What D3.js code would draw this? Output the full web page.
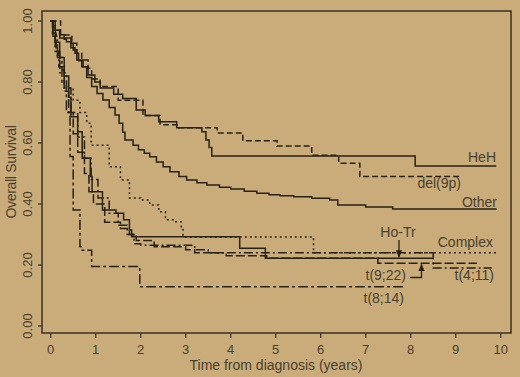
<!DOCTYPE html>
<html>
<head>
<meta charset="utf-8">
<script src="https://cdn.jsdelivr.net/npm/d3@7"></script>
<style>
  html, body { margin: 0; padding: 0; background: #c9ac79; }
  svg { display: block; }
  text { font-family: "Liberation Sans", Arial, sans-serif; fill: #4a4030; }
</style>
</head>
<body>
<div id="chart"></div>
<script>
// survival curves: time (years) and survival fraction, last time = end of follow-up
var hehT = [0, 0.1, 0.2, 0.45, 0.5, 0.58, 0.72, 0.83, 0.98, 1.1, 1.4, 1.6, 1.9, 2.1, 2.4, 2.8, 3.36, 3.45, 3.52, 3.58, 8.1, 9.9];
var hehS = [1, 0.97, 0.944, 0.927, 0.905, 0.872, 0.85, 0.823, 0.8, 0.78, 0.76, 0.746, 0.708, 0.69, 0.67, 0.65, 0.637, 0.61, 0.585, 0.557, 0.525, 0.525];

var del9pT = [0, 0.22, 0.47, 0.58, 0.69, 0.83, 0.91, 1.1, 1.5, 2.05, 2.43, 2.8, 3.7, 4.27, 5.03, 5.8, 6.4, 6.87, 9.1];
var del9pS = [1, 0.954, 0.927, 0.894, 0.872, 0.845, 0.81, 0.785, 0.74, 0.69, 0.66, 0.65, 0.633, 0.607, 0.59, 0.56, 0.534, 0.49, 0.49];

var otherT = [0, 0.05, 0.1, 0.2, 0.3, 0.35, 0.45, 0.54, 0.62, 0.69, 0.8, 0.91, 1.03, 1.16, 1.3, 1.43, 1.52, 1.6, 1.65, 1.83, 1.95, 2.08, 2.2, 2.35, 2.5, 2.65, 2.85, 3.02, 3.25, 3.47, 3.75, 4.0, 4.3, 4.58, 4.85, 5.1, 5.4, 5.8, 6.2, 6.38, 7.0, 7.6, 9.91];
var otherS = [1, 0.985, 0.97, 0.955, 0.94, 0.932, 0.912, 0.894, 0.87, 0.85, 0.815, 0.785, 0.762, 0.741, 0.716, 0.692, 0.665, 0.635, 0.61, 0.593, 0.578, 0.566, 0.555, 0.538, 0.522, 0.506, 0.49, 0.479, 0.47, 0.462, 0.455, 0.449, 0.442, 0.435, 0.43, 0.427, 0.424, 0.419, 0.413, 0.397, 0.39, 0.384, 0.384];

var complexT = [0, 0.05, 0.15, 0.2, 0.35, 0.5, 0.65, 0.8, 0.9, 1.3, 1.55, 1.75, 2.0, 2.2, 2.4, 2.55, 2.76, 2.9, 2.94, 5.84, 9.9];
var complexS = [1, 0.95, 0.88, 0.83, 0.78, 0.74, 0.7, 0.665, 0.593, 0.522, 0.479, 0.42, 0.413, 0.397, 0.375, 0.348, 0.342, 0.32, 0.292, 0.24, 0.24];

var hotrT = [0, 0.05, 0.1, 0.2, 0.3, 0.4, 0.45, 0.6, 0.7, 0.88, 0.92, 1.15, 1.45, 1.62, 1.75, 1.8, 4.2, 4.77, 8.5];
var hotrS = [1, 0.97, 0.93, 0.88, 0.82, 0.75, 0.686, 0.637, 0.55, 0.49, 0.44, 0.38, 0.37, 0.348, 0.315, 0.293, 0.255, 0.222, 0.222];

var t922T = [0, 0.04, 0.12, 0.2, 0.3, 0.4, 0.5, 0.6, 0.75, 0.85, 0.95, 1.2, 1.55, 1.75, 1.9, 2.3, 3.0, 3.2, 3.9, 4.8, 7.27, 9.47];
var t922S = [1, 0.96, 0.9, 0.84, 0.77, 0.7, 0.63, 0.57, 0.5, 0.44, 0.4, 0.34, 0.32, 0.3, 0.28, 0.26, 0.25, 0.24, 0.23, 0.222, 0.206, 0.206];

var t411T = [0, 0.05, 0.1, 0.18, 0.3, 0.45, 0.6, 0.75, 0.9, 1.05, 1.3, 1.5, 1.7, 1.85, 2.0, 3.2, 3.5, 8.5, 9.8];
var t411S = [1, 0.95, 0.9, 0.85, 0.78, 0.7, 0.62, 0.55, 0.48, 0.42, 0.37, 0.33, 0.3, 0.27, 0.265, 0.25, 0.24, 0.19, 0.19];

var t814T = [0, 0.05, 0.1, 0.15, 0.25, 0.35, 0.43, 0.5, 0.65, 0.7, 0.91, 1.98, 7.87];
var t814S = [1, 0.95, 0.92, 0.88, 0.8, 0.7, 0.556, 0.38, 0.26, 0.248, 0.195, 0.129, 0.129];

var xTicks = [0, 1, 2, 3, 4, 5, 6, 7, 8, 9, 10];
var yTicks = [0, 0.2, 0.4, 0.6, 0.8, 1.0];
var yTickLabels = ["0.00", "0.20", "0.40", "0.60", "0.80", "1.00"];

var w = 520, h = 377;
var box = { left: 42, top: 11, right: 511, bottom: 333 };
var ink = "#272116";

var x = d3.scaleLinear().domain([0, 10]).range([50.7, 500.7]);
var y = d3.scaleLinear().domain([0, 1]).range([326, 21]);

var svg = d3.select("#chart").append("svg")
    .attr("width", w)
    .attr("height", h);

var defs = svg.append("defs");
defs.append("marker")
    .attr("id", "arrow")
    .attr("viewBox", "0 0 10 10")
    .attr("refX", 9).attr("refY", 5)
    .attr("markerWidth", 6).attr("markerHeight", 6)
    .attr("orient", "auto")
    .append("path")
    .attr("d", "M0,1L10,5L0,9Z")
    .attr("fill", ink);

// plot box
svg.append("rect")
    .attr("x", box.left).attr("y", box.top)
    .attr("width", box.right - box.left)
    .attr("height", box.bottom - box.top)
    .attr("fill", "none")
    .attr("stroke", "#3a3122")
    .attr("stroke-width", 1.5);

// y axis
svg.selectAll("line.ytick")
    .data(yTicks).enter().append("line")
    .attr("class", "ytick")
    .attr("x1", box.left - 4).attr("x2", box.left)
    .attr("y1", function (d) { return y(d); })
    .attr("y2", function (d) { return y(d); })
    .attr("stroke", "#3a3122").attr("stroke-width", 1.3);

svg.selectAll("text.ylab")
    .data(yTicks).enter().append("text")
    .attr("class", "ylab")
    .attr("transform", function (d) { return "translate(32," + y(d) + ") rotate(-90)"; })
    .attr("text-anchor", "middle")
    .attr("font-size", 13)
    .text(function (d, i) { return yTickLabels[i]; });

// x axis
svg.selectAll("line.xtick")
    .data(xTicks).enter().append("line")
    .attr("class", "xtick")
    .attr("x1", function (d) { return x(d); })
    .attr("x2", function (d) { return x(d); })
    .attr("y1", box.bottom).attr("y2", box.bottom + 5)
    .attr("stroke", "#3a3122").attr("stroke-width", 1.3);

svg.selectAll("text.xlab")
    .data(xTicks).enter().append("text")
    .attr("class", "xlab")
    .attr("x", function (d) { return x(d); })
    .attr("y", 354)
    .attr("text-anchor", "middle")
    .attr("font-size", 13)
    .text(function (d) { return d; });

svg.append("text")
    .attr("x", 276).attr("y", 370)
    .attr("text-anchor", "middle")
    .attr("font-size", 14)
    .text("Time from diagnosis (years)");

svg.append("text")
    .attr("transform", "translate(16,172) rotate(-90)")
    .attr("text-anchor", "middle")
    .attr("font-size", 14)
    .attr("letter-spacing", -0.3)
    .text("Overall Survival");

// curves
var curves = [
    { t: hehT, s: hehS, dash: null },
    { t: del9pT, s: del9pS, dash: "6,3" },
    { t: otherT, s: otherS, dash: null },
    { t: complexT, s: complexS, dash: "2,3" },
    { t: hotrT, s: hotrS, dash: null },
    { t: t922T, s: t922S, dash: "9,3" },
    { t: t411T, s: t411S, dash: "9,3,2,3" },
    { t: t814T, s: t814S, dash: "10,3,3,3" }
];

var line = d3.line()
    .x(function (d) { return x(d[0]); })
    .y(function (d) { return y(d[1]); })
    .curve(d3.curveStepAfter);

svg.append("g").selectAll("path")
    .data(curves).enter().append("path")
    .attr("d", function (c) { return line(d3.zip(c.t, c.s)); })
    .attr("fill", "none")
    .attr("stroke", ink)
    .attr("stroke-width", 1.5)
    .attr("stroke-dasharray", function (c) { return c.dash; });

// labels
var labels = [
    { text: "HeH", x: 496, y: 162, anchor: "end" },
    { text: "del(9p)", x: 461, y: 188, anchor: "end" },
    { text: "Other", x: 497, y: 207, anchor: "end" },
    { text: "Ho-Tr", x: 398, y: 237, anchor: "middle" },
    { text: "Complex", x: 493, y: 247, anchor: "end" },
    { text: "t(9;22)", x: 406, y: 280, anchor: "end" },
    { text: "t(4;11)", x: 494, y: 280, anchor: "end" },
    { text: "t(8;14)", x: 404, y: 303, anchor: "end" }
];

svg.selectAll("text.lab")
    .data(labels).enter().append("text")
    .attr("class", "lab")
    .attr("x", function (d) { return d.x; })
    .attr("y", function (d) { return d.y; })
    .attr("text-anchor", function (d) { return d.anchor; })
    .attr("font-size", 14)
    .text(function (d) { return d.text; });

// pointer arrows for Ho-Tr and t(9;22)
svg.append("path")
    .attr("d", "M" + x(7.74) + ",240V" + (y(0.222) - 1))
    .attr("fill", "none").attr("stroke", ink).attr("stroke-width", 1.3)
    .attr("marker-end", "url(#arrow)");

svg.append("path")
    .attr("d", "M410,277.5H" + x(8.24) + "V" + (y(0.206) + 1))
    .attr("fill", "none").attr("stroke", ink).attr("stroke-width", 1.3)
    .attr("marker-end", "url(#arrow)");
</script>
</body>
</html>
